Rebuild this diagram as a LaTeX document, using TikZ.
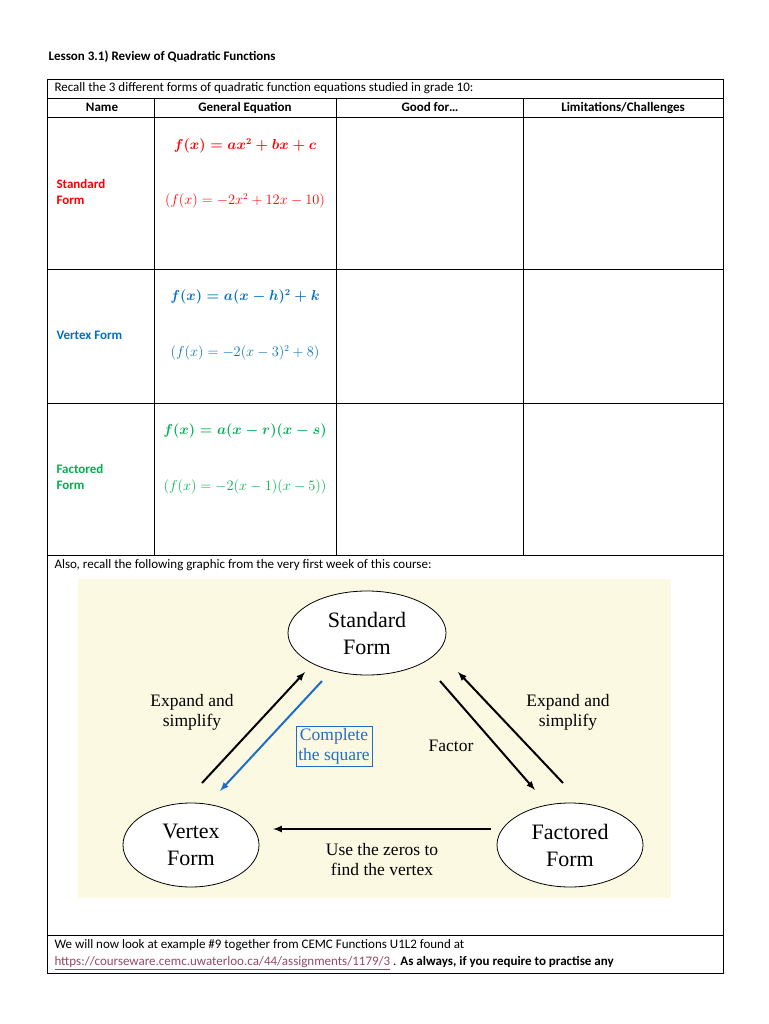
\documentclass[tikz,border=0pt]{standalone}
\usepackage{amsmath}
\usepackage{fontspec}
\setmainfont{Carlito}
\newfontfamily\gfont{Liberation Serif}
\usepackage{tikz}
\usetikzlibrary{shapes.geometric}
\definecolor{stdred}{RGB}{255,0,0}
\definecolor{vtxblue}{RGB}{0,112,192}
\definecolor{facgreen}{RGB}{0,176,80}
\definecolor{bgyellow}{RGB}{252,249,226}
\definecolor{linkred}{RGB}{150,72,100}
\definecolor{arrblue}{RGB}{30,110,200}
\begin{document}
\begin{tikzpicture}[x=1pt,y=-1pt,
  txt/.style={font=\fontsize{13}{16}\selectfont},
  hdr/.style={font=\bfseries\fontsize{13}{16}\selectfont},
  eq/.style={font=\fontsize{13.5}{16}\selectfont},
  form/.style={ellipse,draw,thick,fill=white,font=\gfont\fontsize{22}{27}\selectfont,align=center},
  lbl/.style={font=\gfont\fontsize{17.5}{20}\selectfont,align=center},
  arr/.style={line width=2pt,-latex}]
  \useasboundingbox (0,0) rectangle (768,1024);
  \node[hdr,anchor=west] (title) at (45,57) {Lesson 3.1) Review of Quadratic Functions};
  % table
  \draw (47,79) rectangle (723,973);
  \foreach \y in {98,117,269,403,555,935} \draw (47,\y) -- (723,\y);
  \foreach \x in {154,336,523} \draw (\x,98) -- (\x,555);
  \node[txt,anchor=west] (recall) at (51,88) {Recall the 3 different forms of quadratic function equations studied in grade 10:};
  \node[hdr,anchor=base] (h1) at (102,112) {Name};
  \node[hdr,anchor=base] (h2) at (245,112) {General Equation};
  \node[hdr,anchor=base] (h3) at (430,112) {Good for\ldots};
  \node[hdr,anchor=base] (h4) at (623,112) {Limitations/Challenges};
  % rows
  \node[hdr,text=stdred,anchor=west,align=left] (sname) at (53,192) {Standard\\Form};
  \node[eq,text=stdred] (seq) at (245,146) {$\boldsymbol{f(x)=ax^2+bx+c}$};
  \node[eq,text=stdred] (sex) at (245,201) {$(f(x)=-2x^2+12x-10)$};
  \node[hdr,text=vtxblue,anchor=west] (vname) at (53,335) {Vertex Form};
  \node[eq,text=vtxblue] (veq) at (245,297) {$\boldsymbol{f(x)=a(x-h)^2+k}$};
  \node[eq,text=vtxblue] (vex) at (245,353) {$(f(x)=-2(x-3)^2+8)$};
  \node[hdr,text=facgreen,anchor=west,align=left] (fname) at (53,477) {Factored\\Form};
  \node[eq,text=facgreen] (feq) at (245,431) {$\boldsymbol{f(x)=a(x-r)(x-s)}$};
  \node[eq,text=facgreen] (fex) at (245,487) {$(f(x)=-2(x-1)(x-5))$};
  \node[txt,anchor=west] (also) at (51,565) {Also, recall the following graphic from the very first week of this course:};
  % graphic
  \fill[bgyellow] (78,579) rectangle (671,898);
  \node[form,minimum width=158,minimum height=84] (std) at (367,633) {Standard\\Form};
  \node[form,minimum width=136,minimum height=84] (vtx) at (191,845) {Vertex\\Form};
  \node[form,minimum width=146,minimum height=84] (fac) at (570,845) {Factored\\Form};
  \coordinate (a1) at (202,783);  \coordinate (a1e) at (305,672);
  \coordinate (a2) at (322,681);  \coordinate (a2e) at (220,791);
  \coordinate (a3) at (440,681);  \coordinate (a3e) at (535,790);
  \coordinate (a4) at (563,783);  \coordinate (a4e) at (458,672);
  \coordinate (a5) at (491,829);  \coordinate (a5e) at (273,829);
  \draw[arr] (a1) -- (a1e);
  \draw[arr,arrblue] (a2) -- (a2e);
  \draw[arr] (a3) -- (a3e);
  \draw[arr] (a4) -- (a4e);
  \draw[arr] (a5) -- (a5e);
  \node[lbl] (l1) at (192,712) {Expand and\\simplify};
  \node[lbl,draw=arrblue,text=arrblue,inner sep=2pt] (l2) at (334,746) {Complete\\the square};
  \node[lbl] (l3) at (451,746) {Factor};
  \node[lbl] (l4) at (568,712) {Expand and\\simplify};
  \node[lbl] (l5) at (382,860) {Use the zeros to\\find the vertex};
  % footer
  \node[txt,anchor=west] (now) at (51,945) {We will now look at example \#9 together from CEMC Functions U1L2 found at};
  \node[txt,anchor=west] (link) at (51,963) {\textcolor{linkred}{\underline{https://courseware.cemc.uwaterloo.ca/44/assignments/1179/3}}\ . \textbf{As always, if you require to practise any}};
\end{tikzpicture}
\end{document}
